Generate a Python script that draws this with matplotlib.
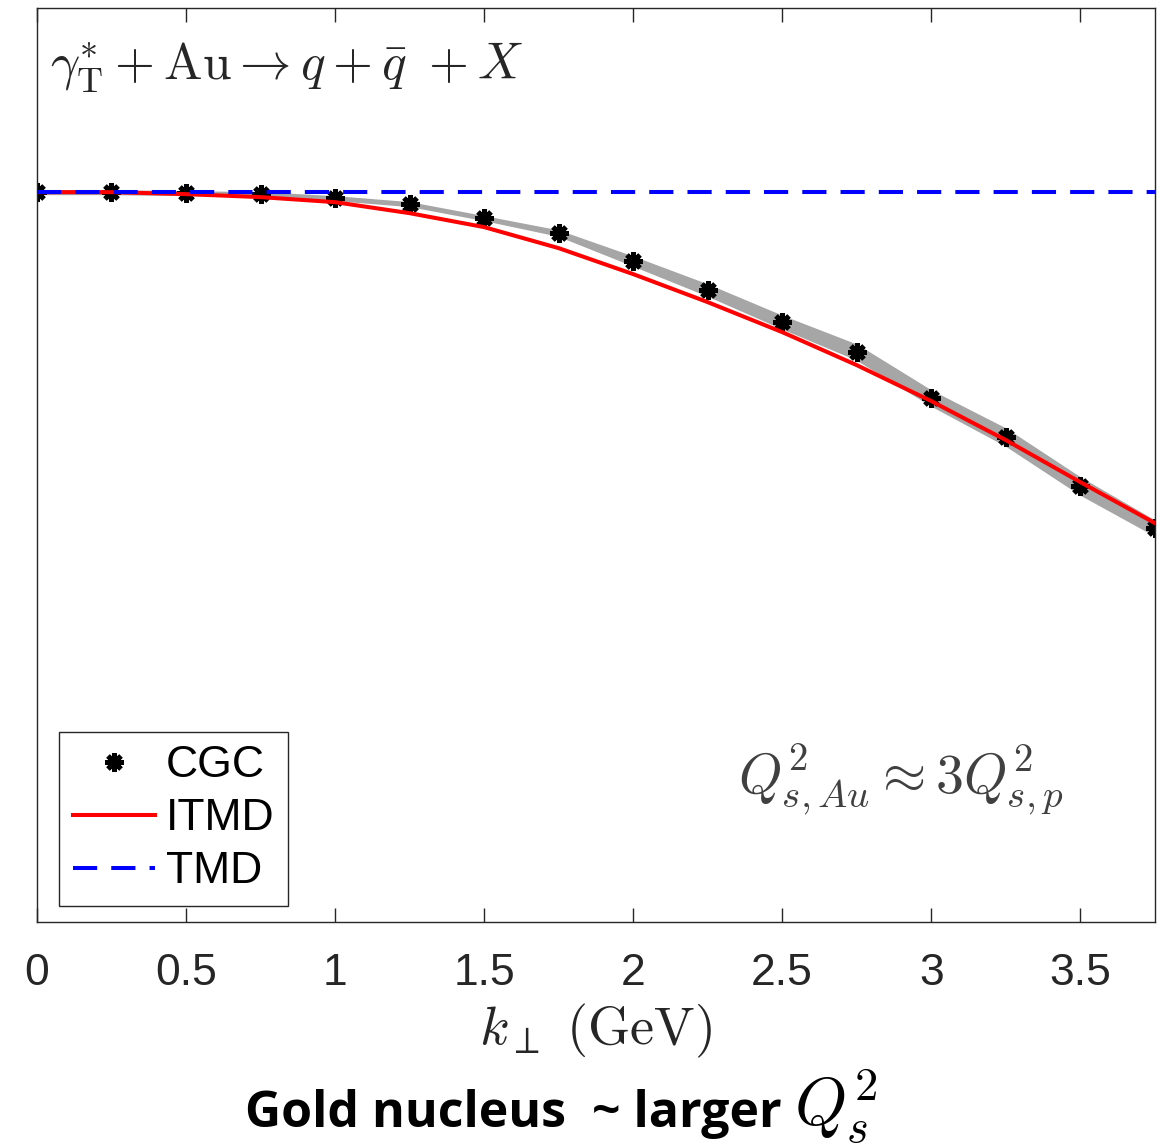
import numpy as np
import matplotlib.pyplot as plt

plt.rcParams['mathtext.fontset'] = 'cm'

# Data
k_perp = [0, 0.25, 0.5, 0.75, 1.0, 1.25, 1.5, 1.75, 2.0, 2.25, 2.5, 2.75, 3.0, 3.25, 3.5, 3.75]
cgc = [1.0, 1.0, 0.9986, 0.9973, 0.9918, 0.9836, 0.9644, 0.9438, 0.9055, 0.8658,
       0.8219, 0.7808, 0.7178, 0.6644, 0.5973, 0.5397]
cgc_err = [0.002, 0.002, 0.002, 0.002, 0.002, 0.002, 0.002, 0.003, 0.0055, 0.007,
           0.008, 0.0096, 0.0096, 0.011, 0.011, 0.0096]
itmd = [1.0, 1.0, 0.9973, 0.9932, 0.9863, 0.9712, 0.9521, 0.9233, 0.8877, 0.8493,
        0.8082, 0.7630, 0.7137, 0.6603, 0.6027, 0.5466]
tmd = [1.0] * len(k_perp)
xticks = [0, 0.5, 1, 1.5, 2, 2.5, 3, 3.5]
xticklabels = ['0', '0.5', '1', '1.5', '2', '2.5', '3', '3.5']

k = np.array(k_perp)
c = np.array(cgc)
e = np.array(cgc_err)

fig = plt.figure(figsize=(11.62, 11.45), dpi=100)
ax = fig.add_axes([0.0318, 0.1948, 0.962, 0.798])

# CGC band and points
ax.fill_between(k, c - e, c + e, color='#a6a6a6', linewidth=1.5, edgecolor='#a6a6a6', zorder=1)
ax.plot(k, c, linestyle='none', marker=(8, 2, 0), markersize=13, markeredgewidth=3.5,
        color='black', label='CGC', zorder=2)
ax.plot(k, itmd, color='red', linewidth=2.9, label='ITMD', zorder=3)
ax.plot(k, tmd, color='blue', linewidth=2.9, dashes=(6, 3.5), label='TMD', zorder=4)

ax.set_xlim(0, 3.75)
ax.set_ylim(0, 1.252)
ax.set_xticks(xticks)
ax.set_xticklabels(xticklabels, family='Liberation Sans', fontsize=32, color='#262626')
ax.set_yticks([])
ax.tick_params(axis='x', direction='in', length=10, width=1, color='#262626',
               top=True, pad=22)
for s in ax.spines.values():
    s.set_color('#262626')
    s.set_linewidth(1.0)

ax.set_xlabel(r'$k_\perp\ (\mathrm{GeV})$', fontsize=39, color='#262626', labelpad=6)

ax.text(0.012, 0.935, r'$\gamma_{\rm T}^{*} + {\rm Au} \rightarrow q + \bar{q}\ + X$',
        transform=ax.transAxes, fontsize=37, color='#262626', va='center', ha='left')
ax.text(0.919, 0.155, r'$Q^2_{s,Au} \approx 3Q^2_{s,p}$', transform=ax.transAxes,
        fontsize=40, color='#404040', va='center', ha='right')

leg = ax.legend(loc='lower left', bbox_to_anchor=(0.02, 0.018),
                prop={'family': 'Liberation Sans', 'size': 32},
                fancybox=False, edgecolor='#262626', framealpha=1, handlelength=1.85,
                handletextpad=0.25, borderpad=0.3, labelspacing=0.27, borderaxespad=0)
leg.get_frame().set_linewidth(1.0)

# caption under the plot: bold words then a larger math Q_s^2
cap = fig.text(245 / 1162, 1 - 1127 / 1145, 'Gold nucleus  ~ larger', family='Open Sans',
               weight='bold', fontsize=36, ha='left', va='baseline', color='black')
fig.canvas.draw()
bb = cap.get_window_extent(renderer=fig.canvas.get_renderer())
fig.text((bb.x1 + 12) / 1162, 1 - 1127 / 1145, r'$Q_s^2$', fontsize=48,
         ha='left', va='baseline', color='black')

fig.savefig('out.png', dpi=100)
